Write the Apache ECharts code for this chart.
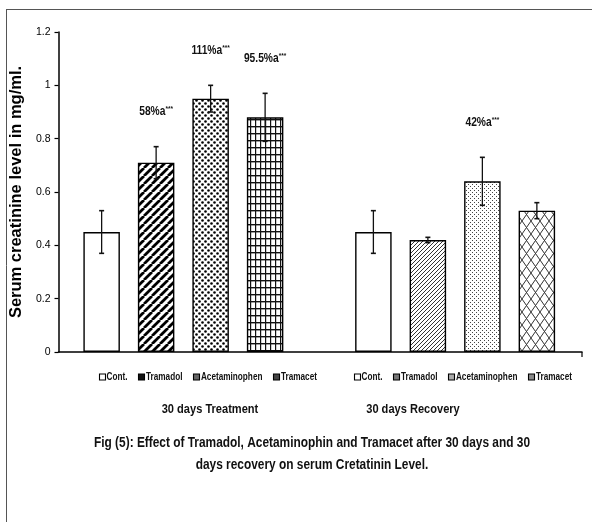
<!DOCTYPE html>
<html><head><meta charset="utf-8">
<script src="https://cdn.jsdelivr.net/npm/echarts@6/dist/echarts.min.js"></script>
<style>html,body{margin:0;padding:0;background:#fff}#c{width:592px;height:522px}</style>
</head><body><div id="c"></div>
<script>
// ---- data ----
const groups = ['30 days Treatment', '30 days Recovery'];
const drugs = ['Cont.', 'Tramadol', 'Acetaminophen', 'Tramacet'];
const treatmentMean = [0.45, 0.71, 0.95, 0.88];
const treatmentErr  = [0.08, 0.06, 0.05, 0.09];
const recoveryMean  = [0.45, 0.42, 0.64, 0.53];
const recoveryErr   = [0.08, 0.01, 0.09, 0.03];
const treatmentNote = ['', '58%a', '111%a', '95.5%a'];
const recoveryNote  = ['', '', '42%a', ''];
const noteMark = '***';
const yMin = 0, yMax = 1.2, yStep = 0.2;
const yTitle = 'Serum creatinine level in mg/ml.';
const captionLines = ['Fig (5): Effect of Tramadol, Acetaminophin and Tramacet after 30 days and 30', 'days recovery on serum Cretatinin Level.'];

// ---- styles ----
const FONT = "'Liberation Sans',Arial,sans-serif";
const NARROW_X = 0.82; // horizontal squeeze to mimic Arial Narrow
function tile(w, h, draw) {
  const c = document.createElement('canvas'); c.width = w; c.height = h;
  const g = c.getContext('2d'); g.fillStyle = '#fff'; g.fillRect(0, 0, w, h);
  draw(g, w, h); return { image: c, repeat: 'repeat' };
}
function diag(g, w, h, lw, col) {
  g.strokeStyle = col; g.lineWidth = lw; g.beginPath();
  for (let k = -1; k <= 1; k++) { g.moveTo(k * w, h); g.lineTo(k * w + w, 0); }
  g.stroke();
}
const fillWhite = '#fff';
const stripesBold = tile(8, 8, (g, w, h) => diag(g, w, h, 2.8, '#000'));
const stripesFine = tile(4, 4, (g, w, h) => diag(g, w, h, 1, '#333'));
const dotsBold = tile(6, 6, g => { g.fillStyle = '#000'; g.beginPath(); g.arc(1.5, 1.5, 1.3, 0, 7); g.fill(); g.beginPath(); g.arc(4.5, 4.5, 1.3, 0, 7); g.fill(); });
const dotsFine = tile(4, 4, g => { g.fillStyle = '#444'; g.fillRect(0, 0, 1, 1); g.fillRect(2, 2, 1, 1); });
const gridFill = tile(5, 7, g => { g.fillStyle = '#111'; g.fillRect(0, 0, 5, 1.4); g.fillRect(0, 0, 1.2, 7); });
const crossFill = tile(9, 13, (g, w, h) => { g.strokeStyle = '#333'; g.lineWidth = 1; g.beginPath(); g.moveTo(0, 0); g.lineTo(w, h); g.moveTo(w, 0); g.lineTo(0, h); g.stroke(); });
const fillsT = [fillWhite, stripesBold, dotsBold, gridFill];
const fillsR = [fillWhite, stripesFine, dotsFine, crossFill];
const swT = ['#fff', '#111', '#666', '#444'];
const swR = ['#fff', '#777', '#aaa', '#888'];

const BAR_W = 36.5, BAR_GAP = 0.493;
const STEP = BAR_W * (1 + BAR_GAP);

const barSeries = drugs.map((d, i) => ({
  type: 'bar', name: d, xAxisIndex: 0, yAxisIndex: 0,
  barWidth: BAR_W, barGap: (BAR_GAP * 100) + '%',
  itemStyle: { borderColor: '#000', borderWidth: 1.4 },
  data: [
    { value: treatmentMean[i], itemStyle: { color: fillsT[i] } },
    { value: recoveryMean[i], itemStyle: { color: fillsR[i] } }
  ]
}));

const errData = [], notes = [];
drugs.forEach((d, i) => {
  errData.push([0, i, treatmentMean[i], treatmentErr[i]]); notes.push(treatmentNote[i]);
  errData.push([1, i, recoveryMean[i], recoveryErr[i]]); notes.push(recoveryNote[i]);
});

const errSeries = {
  type: 'custom', xAxisIndex: 0, yAxisIndex: 0, z: 10,
  encode: { x: 0, y: 2 },
  data: errData,
  renderItem(params, api) {
    const gi = api.value(0), i = api.value(1), m = api.value(2), e = api.value(3);
    const base = api.coord([gi, m]);
    const x = base[0] + (i - 1.5) * STEP;
    const yt = api.coord([gi, m + e])[1], yb = api.coord([gi, m - e])[1];
    const ch = [
      { type: 'line', shape: { x1: x, y1: yt, x2: x, y2: yb }, style: { stroke: '#111', lineWidth: 1.3 } },
      { type: 'line', shape: { x1: x - 2.5, y1: yt, x2: x + 2.5, y2: yt }, style: { stroke: '#111', lineWidth: 1.6 } },
      { type: 'line', shape: { x1: x - 2.5, y1: yb, x2: x + 2.5, y2: yb }, style: { stroke: '#111', lineWidth: 1.6 } }
    ];
    const n = notes[params.dataIndex];
    if (n) {
      ch.push({
        type: 'text', x: x, y: yt - 35, scaleX: NARROW_X,
        style: {
          text: '{b|' + n + '}{s|' + noteMark + '}',
          align: 'center', verticalAlign: 'middle', textAlign: 'center', textVerticalAlign: 'middle',
          rich: {
            b: { fontFamily: FONT, fontSize: 12.5, fontWeight: 'bold', fill: '#111', lineHeight: 14 },
            s: { fontFamily: FONT, fontSize: 8, fontWeight: 'bold', fill: '#111', verticalAlign: 'top', lineHeight: 8 }
          }
        }
      });
    }
    return { type: 'group', children: ch };
  }
};

function squeezedText(txt, x, y, size, align) {
  return {
    type: 'text', x: x, y: y, scaleX: NARROW_X,
    style: { text: txt, font: 'bold ' + size + 'px ' + FONT, fill: '#111', textAlign: align || 'center', textVerticalAlign: 'middle', align: align || 'center', verticalAlign: 'middle' }
  };
}

// legend-like key rows under each group
const KEY_FONT = 10, KEY_SW = 6, KEY_PAD = 1.5, KEY_GAP = 11;
const measureCtx = document.createElement('canvas').getContext('2d');
measureCtx.font = 'bold ' + KEY_FONT + 'px ' + FONT;
function keyRow(centerX, y, swatchCols) {
  const widths = drugs.map(d => KEY_SW + KEY_PAD + measureCtx.measureText(d).width * NARROW_X);
  const total = widths.reduce((a, b) => a + b, 0) + KEY_GAP * (drugs.length - 1);
  let x = centerX - total / 2;
  const els = [];
  drugs.forEach((d, i) => {
    els.push({ type: 'rect', shape: { x: Math.round(x) + 0.5, y: y - KEY_SW / 2, width: KEY_SW, height: KEY_SW }, style: { fill: swatchCols[i], stroke: '#000', lineWidth: 1.1 } });
    els.push(squeezedText(d, x + KEY_SW + KEY_PAD, y + 0.5, KEY_FONT, 'left'));
    x += widths[i] + KEY_GAP;
  });
  return els;
}

const chart = echarts.init(document.getElementById('c'), null, { renderer: 'canvas' });
chart.setOption({
  animation: false,
  backgroundColor: '#fff',
  grid: [
    { left: 47.5, right: 1, top: 32, bottom: 170 },
    { left: 56, right: 10, top: 32, bottom: 170 }
  ],
  xAxis: [
    { type: 'category', gridIndex: 0, data: groups, show: false },
    {
      type: 'category', gridIndex: 1, data: groups,
      axisLine: { lineStyle: { color: '#000', width: 1.5 } },
      axisTick: { show: false },
      axisLabel: { show: false }
    }
  ],
  yAxis: [
    { type: 'value', gridIndex: 0, min: yMin, max: yMax, interval: yStep, show: false },
    {
      type: 'value', gridIndex: 1, min: yMin, max: yMax, interval: yStep,
      axisLine: { show: true, lineStyle: { color: '#000', width: 1.5 } },
      axisTick: { show: true, length: 4, lineStyle: { color: '#000', width: 1.2 } },
      splitLine: { show: false },
      axisLabel: { fontFamily: FONT, fontSize: 10.5, color: '#000', margin: 8 },
      name: yTitle, nameLocation: 'middle', nameGap: 33,
      nameTextStyle: { fontFamily: FONT, fontSize: 16.5, fontWeight: 'bold', color: '#000' }
    }
  ],
  series: [...barSeries, errSeries],
  graphic: [
    { type: 'line', shape: { x1: 6.5, y1: 9, x2: 6.5, y2: 522 }, style: { stroke: '#555', lineWidth: 1 } },
    { type: 'line', shape: { x1: 6, y1: 9.5, x2: 592, y2: 9.5 }, style: { stroke: '#555', lineWidth: 1 } },
    { type: 'line', shape: { x1: 582, y1: 352, x2: 582, y2: 357 }, style: { stroke: '#000', lineWidth: 1.2 } },
    ...keyRow(208, 377, swT),
    ...keyRow(463, 377, swR),
    squeezedText(groups[0], 210, 409, 13.5),
    squeezedText(groups[1], 413, 409, 13.5),
    squeezedText(captionLines[0], 312, 443, 14.5),
    squeezedText(captionLines[1], 312, 465, 14.5)
  ]
});
</script>
</body></html>
